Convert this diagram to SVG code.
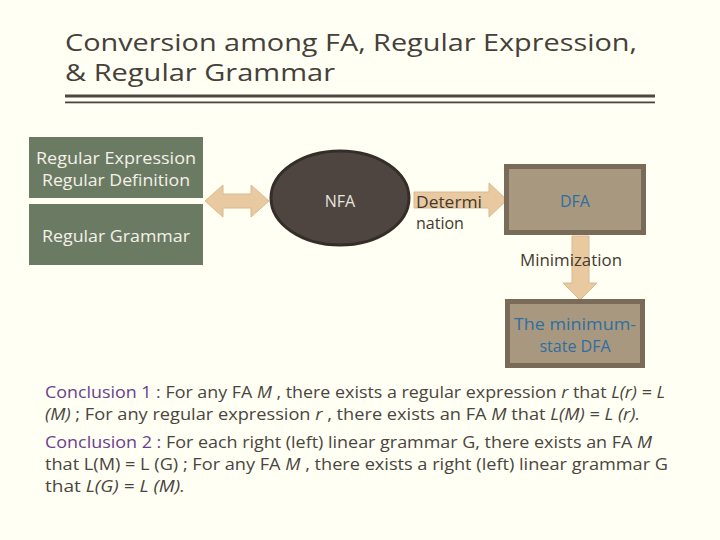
<svg xmlns="http://www.w3.org/2000/svg" width="720" height="540" viewBox="0 0 720 540">
<style>
.t{font-family:"Open Sans","Liberation Sans",sans-serif}
.title{font-size:23px;fill:#45403A}
.box{fill:#6B7B63}
.wt{font-size:16px;fill:#F4F1EA}
.bt{font-size:16px;fill:#2F6E9E}
.arr{fill:#E9C9A0;stroke:#D9B890;stroke-width:1}
.lbl{font-size:16px;fill:#45392F}
.body{font-size:16px;fill:#4A4540}
.pur{fill:#6A3E8E}
.it{font-style:italic}
.dfa{fill:#A89880;stroke:#7A6A58;stroke-width:5}
</style>
<rect width="720" height="540" fill="#FFFFF4"/>
<g id="title">
<text class="t title" x="65" y="51" textLength="572" lengthAdjust="spacingAndGlyphs">Conversion among FA, Regular Expression,</text>
<text class="t title" x="65" y="81" textLength="270" lengthAdjust="spacingAndGlyphs">&amp; Regular Grammar</text>
<rect x="65" y="94.5" width="590" height="3" fill="#4E4741"/>
<rect x="65" y="101.5" width="590" height="1.8" fill="#4E4741"/>
</g>
<g id="connectors">
<polygon class="arr" points="205,201 223,185 223,194 251,194 251,185 269,201 251,217 251,208 223,208 223,217"/>
<polygon class="arr" points="414,192 489,192 489,183 507,200 489,217 489,208 414,208"/>
<polygon class="arr" points="572,236 589,236 589,283 597,283 580,300 563,283 572,283"/>
<text class="t lbl" x="416" y="208" textLength="66" lengthAdjust="spacingAndGlyphs">Determi</text>
<text class="t lbl" x="416" y="229">nation</text>
<text class="t lbl" x="520" y="266" textLength="102" lengthAdjust="spacingAndGlyphs">Minimization</text>
</g>
<g id="regex">
<rect class="box" x="29" y="137" width="174" height="61"/>
<text class="t wt" x="116" y="164" text-anchor="middle" textLength="160" lengthAdjust="spacingAndGlyphs">Regular Expression</text>
<text class="t wt" x="116" y="186" text-anchor="middle" textLength="148" lengthAdjust="spacingAndGlyphs">Regular Definition</text>
</g>
<g id="grammar">
<rect class="box" x="29" y="204" width="174" height="61"/>
<text class="t wt" x="116" y="242" text-anchor="middle" textLength="148" lengthAdjust="spacingAndGlyphs">Regular Grammar</text>
</g>
<g id="nfa">
<ellipse cx="340" cy="198" rx="69" ry="47" fill="#4E4541" stroke="#352D29" stroke-width="3"/>
<text class="t" x="340" y="207" text-anchor="middle" font-size="16" fill="#E8E4DE">NFA</text>
</g>
<g id="dfa">
<rect class="dfa" x="506.5" y="166.5" width="137" height="66"/>
<text class="t bt" x="575" y="207" text-anchor="middle">DFA</text>
</g>
<g id="mindfa">
<rect class="dfa" x="507.5" y="301.5" width="135" height="64"/>
<text class="t bt" x="575" y="330" text-anchor="middle" textLength="122" lengthAdjust="spacingAndGlyphs">The minimum-</text>
<text class="t bt" x="575" y="352" text-anchor="middle">state DFA</text>
</g>
<g id="conclusions" class="t body">
<text x="45" y="398" textLength="620" lengthAdjust="spacingAndGlyphs"><tspan class="pur">Conclusion 1 :</tspan> For any FA <tspan class="it">M</tspan> , there exists a regular expression <tspan class="it">r</tspan> that <tspan class="it">L(r) = L</tspan></text>
<text x="45" y="420" textLength="595" lengthAdjust="spacingAndGlyphs"><tspan class="it">(M)</tspan> ; For any regular expression <tspan class="it">r</tspan> ,  there exists an FA <tspan class="it">M</tspan> that <tspan class="it">L(M) = L (r).</tspan></text>
<text x="45" y="448" textLength="607" lengthAdjust="spacingAndGlyphs"><tspan class="pur">Conclusion 2 :</tspan>  For each right (left) linear grammar G, there exists an FA <tspan class="it">M</tspan></text>
<text x="45" y="470" textLength="623" lengthAdjust="spacingAndGlyphs">that L(M) = L (G) ;  For any FA <tspan class="it">M</tspan> , there exists a right (left) linear grammar G</text>
<text x="45" y="492" textLength="140" lengthAdjust="spacingAndGlyphs">that <tspan class="it">L(G) = L (M).</tspan></text>
</g>
</svg>
